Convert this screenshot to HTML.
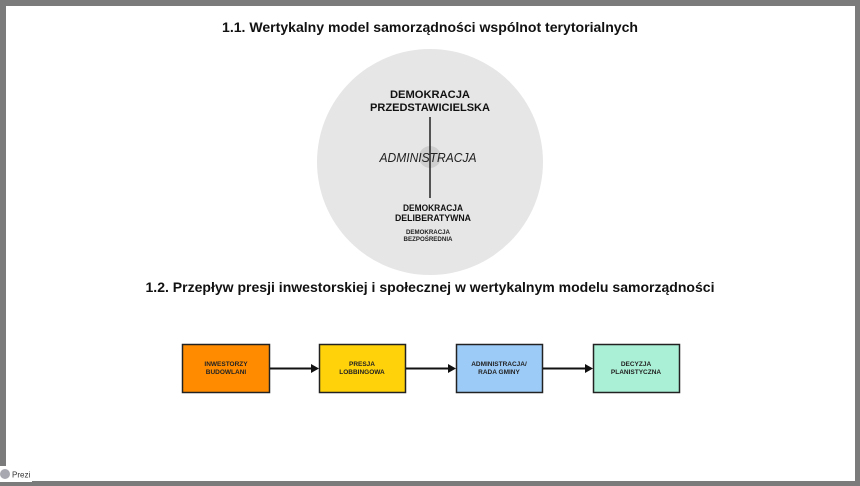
<!DOCTYPE html>
<html><head><meta charset="utf-8"><style>
html,body{margin:0;padding:0;background:#7a7a7a;}
svg{display:block;font-family:"Liberation Sans",sans-serif;}
</style></head><body>
<svg width="860" height="486" viewBox="0 0 860 486" xmlns="http://www.w3.org/2000/svg">
<rect x="0" y="0" width="860" height="486" fill="#7b7b7b"/>
<rect x="6" y="6" width="849" height="475" fill="#ffffff"/>
<text x="430" y="32" text-anchor="middle" font-size="14" font-weight="bold" fill="#111" textLength="416" lengthAdjust="spacingAndGlyphs">1.1. Wertykalny model samorządności wspólnot terytorialnych</text>
<circle cx="430" cy="162" r="113" fill="#e6e6e6"/>
<circle cx="430" cy="157" r="11" fill="#cfcfcf"/>
<line x1="430" y1="117" x2="430" y2="198" stroke="#222" stroke-width="1.5"/>
<text x="430" y="98" text-anchor="middle" font-size="11" font-weight="bold" fill="#111" textLength="80" lengthAdjust="spacingAndGlyphs">DEMOKRACJA</text>
<text x="430" y="111" text-anchor="middle" font-size="11" font-weight="bold" fill="#111" textLength="120" lengthAdjust="spacingAndGlyphs">PRZEDSTAWICIELSKA</text>
<text x="428" y="162" text-anchor="middle" font-size="13" font-style="italic" fill="#222" textLength="97" lengthAdjust="spacingAndGlyphs">ADMINISTRACJA</text>
<text x="433" y="211" text-anchor="middle" font-size="9.5" font-weight="bold" fill="#111" textLength="60" lengthAdjust="spacingAndGlyphs">DEMOKRACJA</text>
<text x="433" y="221" text-anchor="middle" font-size="9.5" font-weight="bold" fill="#111" textLength="76" lengthAdjust="spacingAndGlyphs">DELIBERATYWNA</text>
<text x="428" y="234" text-anchor="middle" font-size="6" font-weight="bold" fill="#222" textLength="44" lengthAdjust="spacingAndGlyphs">DEMOKRACJA</text>
<text x="428" y="241" text-anchor="middle" font-size="6" font-weight="bold" fill="#222" textLength="49" lengthAdjust="spacingAndGlyphs">BEZPOŚREDNIA</text>
<text x="430" y="292" text-anchor="middle" font-size="14" font-weight="bold" fill="#111" textLength="569" lengthAdjust="spacingAndGlyphs">1.2. Przepływ presji inwestorskiej i społecznej w wertykalnym modelu samorządności</text>
<g stroke="#222" stroke-width="1.5">
<rect x="182.5" y="344.5" width="87" height="48" fill="#ff8c00"/>
<rect x="319.5" y="344.5" width="86" height="48" fill="#ffd20a"/>
<rect x="456.5" y="344.5" width="86" height="48" fill="#9ccbf7"/>
<rect x="593.5" y="344.5" width="86" height="48" fill="#aaf0d6"/>
</g>
<g stroke="#111" stroke-width="2">
<line x1="270" y1="368.5" x2="312" y2="368.5"/>
<line x1="406" y1="368.5" x2="449" y2="368.5"/>
<line x1="543" y1="368.5" x2="586" y2="368.5"/>
</g>
<g fill="#111">
<polygon points="319,368.5 311,364 311,373"/>
<polygon points="456,368.5 448,364 448,373"/>
<polygon points="593,368.5 585,364 585,373"/>
</g>
<g font-size="6.5" font-weight="bold" fill="#222" text-anchor="middle">
<text x="226" y="366">INWESTORZY</text><text x="226" y="374">BUDOWLANI</text>
<text x="362" y="366">PRESJA</text><text x="362" y="374">LOBBINGOWA</text>
<text x="499" y="366">ADMINISTRACJA/</text><text x="499" y="374">RADA GMINY</text>
<text x="636" y="366">DECYZJA</text><text x="636" y="374">PLANISTYCZNA</text>
</g>
<rect x="0" y="466" width="32" height="16" fill="#ffffff"/>
<circle cx="5" cy="474" r="5" fill="#a8a8b0"/>
<text x="12" y="477.5" font-size="8" fill="#333">Prezi</text>
</svg>
</body></html>
